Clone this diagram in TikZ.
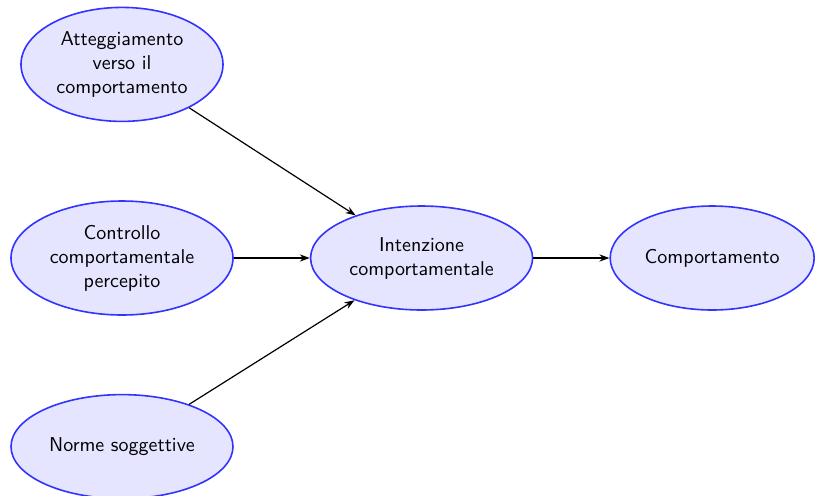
\documentclass[tikz,border=0pt]{standalone}
\usepackage{tikz}
\usetikzlibrary{shapes,arrows,positioning,arrows.meta}

\begin{document}
\begin{tikzpicture}[node distance=39pt,
    fattore/.style={ellipse, draw=blue!80, thick, fill=blue!10, align=center, font=\sffamily,
        inner sep=1pt, minimum width=111pt, minimum height=52pt},
    freccia/.style={semithick, -{Stealth[length=5pt,width=3.6pt]}}]
    \useasboundingbox (-61pt,-118.5pt) rectangle (347pt,129pt);

    % Fattori
    \node[fattore, minimum height=57pt] (ctrl) at (0,0) {Controllo\\comportamentale\\percepito};
    \node[fattore, minimum width=101pt, minimum height=57pt, above=of ctrl] (att) {Atteggiamento\\verso il\\comportamento};
    \node[fattore, below=of ctrl] (norme) {Norme soggettive};

    % Intenzione e comportamento
    \node[fattore, right=38pt of ctrl] (int) {Intenzione\\comportamentale};
    \node[fattore, minimum width=102pt, right=38pt of int] (comp) {Comportamento};

    \draw[freccia] (att) -- (int);
    \draw[freccia] (ctrl) -- (int);
    \draw[freccia] (norme) -- (int);
    \draw[freccia] (int) -- (comp);
\end{tikzpicture}
\end{document}
